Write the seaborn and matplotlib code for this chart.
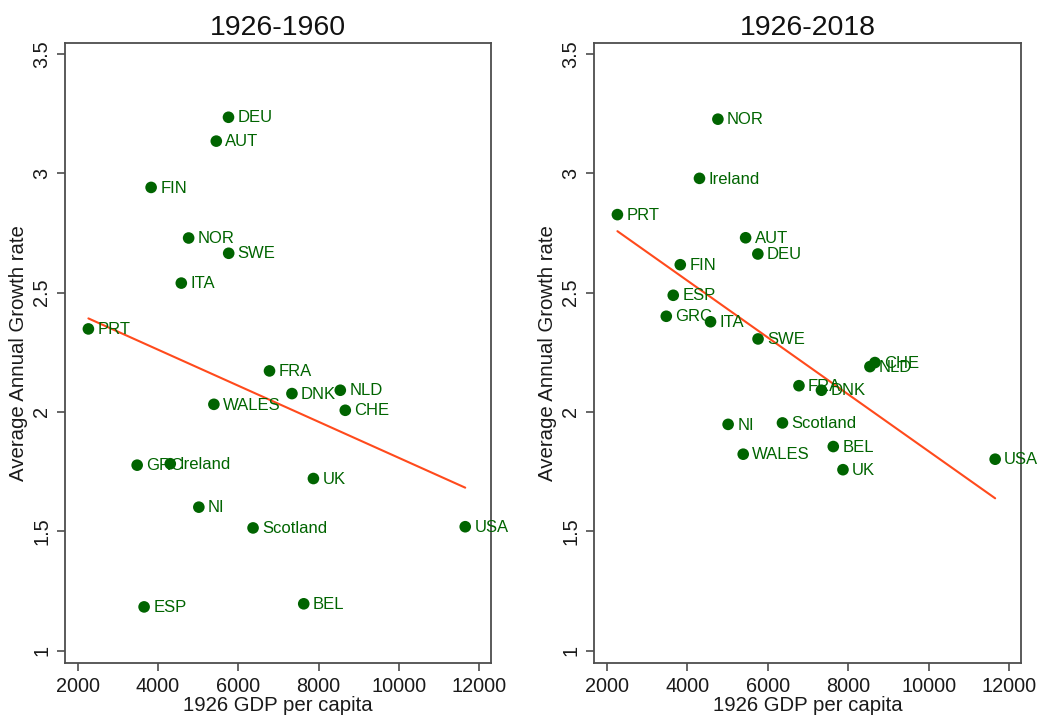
import matplotlib
matplotlib.use("Agg")
import matplotlib.pyplot as plt
import seaborn as sns
import pandas as pd
import numpy as np

countries = ["PRT", "GRC", "ESP", "FIN", "Ireland", "ITA", "NOR", "NI", "WALES", "AUT",
             "DEU", "SWE", "Scotland", "FRA", "DNK", "BEL", "UK", "NLD", "CHE", "USA"]
gdp_1926 = [2265, 3480, 3653, 3828, 4305, 4580, 4763, 5017, 5392, 5452,
            5756, 5761, 6368, 6778, 7337, 7631, 7872, 8542, 8666, 11655]
growth_1926_1960 = [2.348, 1.777, 1.183, 2.941, 1.783, 2.540, 2.729, 1.601, 2.032, 3.135,
                    3.235, 2.665, 1.514, 2.172, 2.077, 1.196, 1.721, 2.091, 2.007, 1.519]
growth_1926_2018 = [2.827, 2.401, 2.489, 2.617, 2.979, 2.378, 3.227, 1.948, 1.823, 2.730,
                    2.662, 2.306, 1.954, 2.110, 2.091, 1.855, 1.758, 2.190, 2.207, 1.802]
titles = ["1926-1960", "1926-2018"]
x_ticks = [2000, 4000, 6000, 8000, 10000, 12000]
y_ticks = [1, 1.5, 2, 2.5, 3, 3.5]
y_tick_labels = ["1", "1.5", "2", "2.5", "3", "3.5"]

sns.set_theme(style="white")
plt.rcParams['font.family'] = ['Liberation Sans', 'DejaVu Sans']

GREEN = "#006400"
LINE = "#FF4A1C"
FRAME = "#4d4d4d"

fig = plt.figure(figsize=(10.39, 7.2), dpi=100)
axes = [fig.add_axes([0.0626, 0.0792, 0.410, 0.861]),
        fig.add_axes([0.5717, 0.0792, 0.411, 0.861])]

for ax, growth, title in zip(axes, [growth_1926_1960, growth_1926_2018], titles):
    df = pd.DataFrame({"gdp": gdp_1926, "growth": growth, "country": countries})
    sns.regplot(data=df, x="gdp", y="growth", ax=ax, ci=None, scatter=False,
                line_kws=dict(color=LINE, lw=1.5))
    sns.scatterplot(data=df, x="gdp", y="growth", ax=ax, color=GREEN, s=70,
                    edgecolor="none", zorder=3)
    for _, r in df.iterrows():
        ax.annotate(r["country"], (r["gdp"], r["growth"]), xytext=(6.5, -0.5),
                    textcoords="offset points", va="center", ha="left",
                    color=GREEN, fontsize=12)
    ax.set_xlim(1683, 12298)
    ax.set_ylim(0.948, 3.546)
    ax.set_xticks(x_ticks)
    ax.set_xticklabels([str(t) for t in x_ticks])
    ax.set_yticks(y_ticks)
    ax.set_yticklabels(y_tick_labels, rotation=90, va="center")
    ax.tick_params(axis="both", which="major", length=6, width=1.2, color=FRAME,
                   labelsize=14.3, labelcolor="#1a1a1a", direction="out",
                   bottom=True, left=True, pad=4)
    for sp in ax.spines.values():
        sp.set_color(FRAME)
        sp.set_linewidth(1.3)
    ax.set_xlabel("1926 GDP per capita", fontsize=14.7, color="#1a1a1a", labelpad=0)
    ax.set_ylabel("Average Annual Growth rate", fontsize=14.7, color="#1a1a1a", labelpad=3)
    ax.set_title(title, fontsize=20.5, color="#111111", pad=6)

fig.savefig("out.png", dpi=100)
